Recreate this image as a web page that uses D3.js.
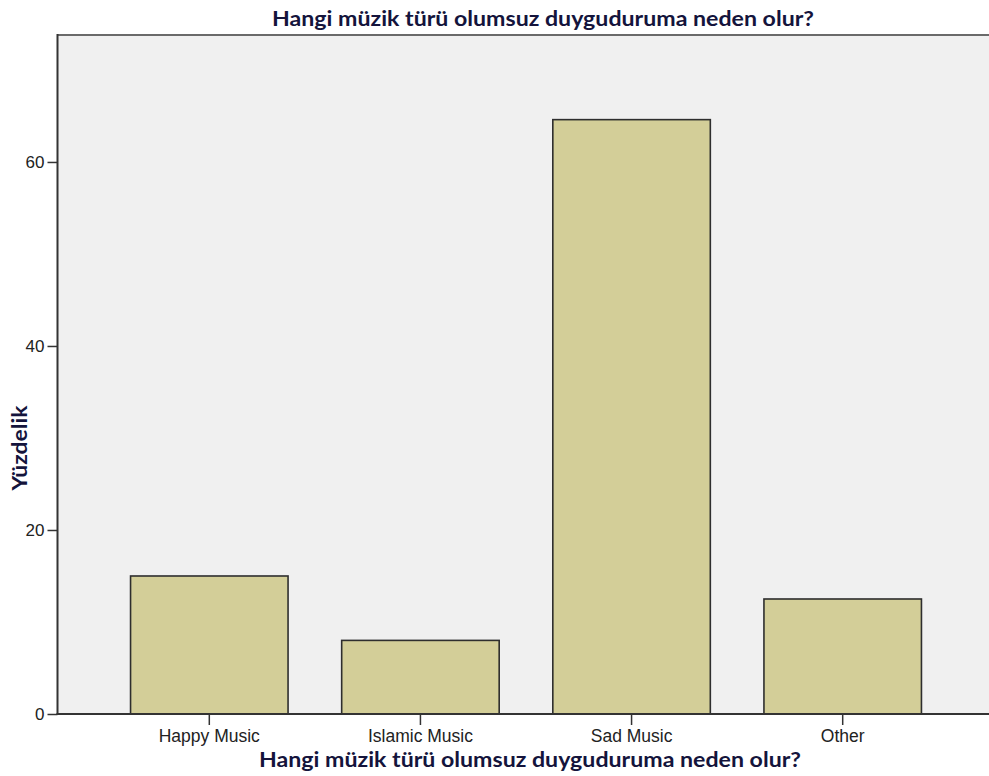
<!DOCTYPE html>
<html>
<head>
<meta charset="utf-8">
<script src="https://cdn.jsdelivr.net/npm/d3@7"></script>
<style>
  html, body { margin: 0; padding: 0; background: #ffffff; }
  svg { display: block; }
</style>
</head>
<body>
<svg id="chart" width="989" height="776"></svg>
<script>
const categories = ["Happy Music", "Islamic Music", "Sad Music", "Other"];
const percentages = [15.0, 8.0, 64.6, 12.5];
const yTicks = [0, 20, 40, 60];
const chartTitle = "Hangi müzik türü olumsuz duyguduruma neden olur?";
const xTitle = "Hangi müzik türü olumsuz duyguduruma neden olur?";
const yTitle = "Yüzdelik";

const W = 989, H = 776;
const plot = { left: 57.5, top: 35, right: 994.5, bottom: 714 };

const svg = d3.select("#chart");

const x = d3.scaleBand()
  .domain(categories)
  .range([plot.left, plot.right])
  .paddingInner(0.254)
  .paddingOuter(0.346);

const y = d3.scaleLinear()
  .domain([0, 73.8])
  .range([plot.bottom, plot.top]);

// plot background
svg.append("rect")
  .attr("x", plot.left)
  .attr("y", plot.top)
  .attr("width", W - plot.left)
  .attr("height", plot.bottom - plot.top)
  .attr("fill", "#f0f0f0");

// top border
svg.append("line")
  .attr("x1", plot.left).attr("x2", W)
  .attr("y1", plot.top).attr("y2", plot.top)
  .attr("stroke", "#6a6a6a").attr("stroke-width", 2);

// bars
svg.append("g").selectAll("rect")
  .data(categories.map((c, i) => ({ c, v: percentages[i] })))
  .join("rect")
  .attr("x", d => x(d.c))
  .attr("y", d => y(d.v))
  .attr("width", x.bandwidth())
  .attr("height", d => y(0) - y(d.v))
  .attr("fill", "#d3ce98")
  .attr("stroke", "#2e2e2e")
  .attr("stroke-width", 1.6);

const tickFont = "Liberation Sans, Arial, sans-serif";

// y axis
const yAxis = d3.axisLeft(y).tickValues(yTicks).tickSize(10).tickPadding(3).tickFormat(d3.format("d"));
const gy = svg.append("g").attr("transform", `translate(${plot.left},0)`).call(yAxis);
gy.select(".domain").remove();
gy.selectAll(".tick line").attr("stroke", "#333").attr("stroke-width", 1.5);
gy.selectAll(".tick text")
  .attr("font-family", tickFont)
  .attr("font-size", "17px")
  .attr("fill", "#222");
svg.append("line")
  .attr("x1", plot.left).attr("x2", plot.left)
  .attr("y1", plot.top - 1).attr("y2", plot.bottom)
  .attr("stroke", "#333").attr("stroke-width", 2);

// x axis
const xAxis = d3.axisBottom(x).tickSize(11).tickPadding(5);
const gx = svg.append("g").attr("transform", `translate(0,${plot.bottom})`).call(xAxis);
gx.select(".domain").remove();
gx.selectAll(".tick line").attr("stroke", "#333").attr("stroke-width", 1.5);
gx.selectAll(".tick text")
  .attr("font-family", tickFont)
  .attr("font-size", "17.5px")
  .attr("fill", "#222");
svg.append("line")
  .attr("x1", plot.left - 1).attr("x2", W)
  .attr("y1", plot.bottom).attr("y2", plot.bottom)
  .attr("stroke", "#333").attr("stroke-width", 2);

// titles
const titleFont = "Lato, 'Open Sans', sans-serif";
svg.append("text")
  .attr("x", 543).attr("y", 26)
  .attr("text-anchor", "middle")
  .attr("font-family", titleFont)
  .attr("font-weight", "bold")
  .attr("font-size", "20.5px")
  .attr("fill", "#14143c")
  .attr("textLength", 542)
  .attr("lengthAdjust", "spacingAndGlyphs")
  .text(chartTitle);

svg.append("text")
  .attr("x", 530).attr("y", 767)
  .attr("text-anchor", "middle")
  .attr("font-family", titleFont)
  .attr("font-weight", "bold")
  .attr("font-size", "20.5px")
  .attr("fill", "#14143c")
  .attr("textLength", 542)
  .attr("lengthAdjust", "spacingAndGlyphs")
  .text(xTitle);

svg.append("text")
  .attr("transform", "translate(27,448) rotate(-90)")
  .attr("text-anchor", "middle")
  .attr("font-family", titleFont)
  .attr("font-weight", "bold")
  .attr("font-size", "20.5px")
  .attr("fill", "#14143c")
  .attr("textLength", 85)
  .attr("lengthAdjust", "spacingAndGlyphs")
  .text(yTitle);
</script>
</body>
</html>
